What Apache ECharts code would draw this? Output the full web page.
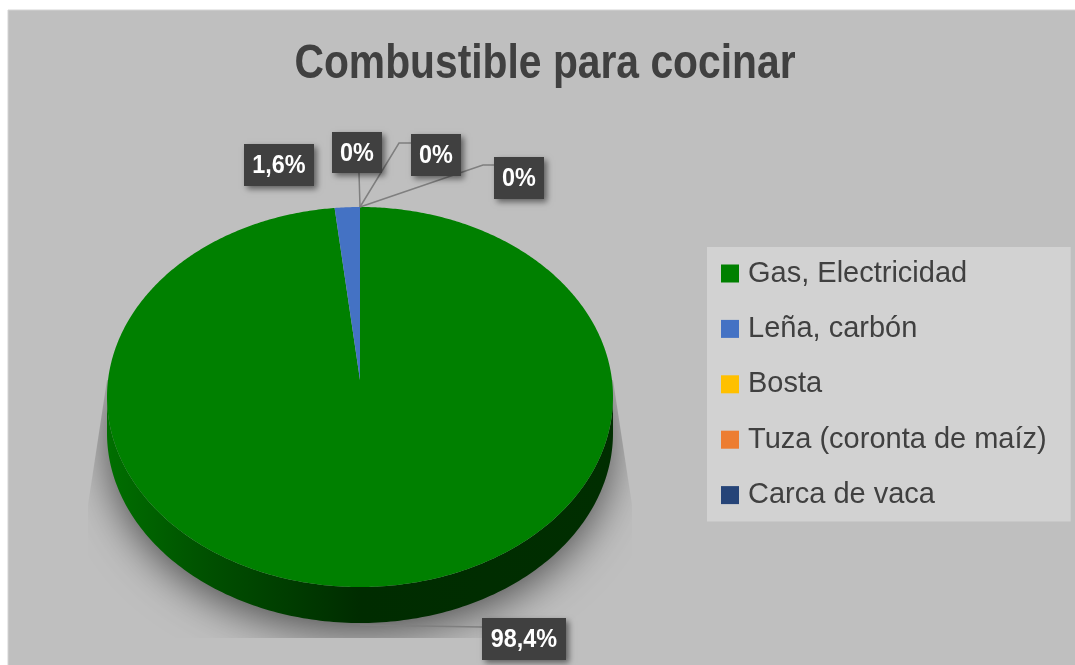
<!DOCTYPE html>
<html><head><meta charset="utf-8">
<style>html,body{margin:0;padding:0;background:#fff}#c{width:1075px;height:665px}</style>
<script src="https://cdn.jsdelivr.net/npm/echarts@6/dist/echarts.min.js"></script>
</head><body><div id="c"></div>
<script>
const categories = ['Gas, Electricidad', 'Leña, carbón', 'Bosta', 'Tuza (coronta de maíz)', 'Carca de vaca'];
const values = [98.4, 1.6, 0, 0, 0];
const colors = ['#008000', '#4472C4', '#FFC000', '#ED7D31', '#264478'];
const titleText = 'Combustible para cocinar';

// Layout of the tilted pie and its callouts (not data)
const P = {cx: 360, cy: 397, rx: 253, ry: 190, apexY: 380, depth: 36};
const boxes = [
  {x: 482, y: 618, w: 84, h: 42, line: [[360, 625], [482, 627]]},
  {x: 244, y: 144, w: 70, h: 42, line: []},
  {x: 332, y: 132, w: 50, h: 41, line: [[360, 207], [359, 173]]},
  {x: 411, y: 134, w: 50, h: 42, line: [[360, 207], [399, 143], [411, 143]]},
  {x: 494, y: 157, w: 50, h: 42, line: [[360, 207], [483, 165], [494, 165]]}
];
const total = values.reduce((a, b) => a + b, 0);
const rim = (deg, dy) => {
  const t = deg * Math.PI / 180;
  return [P.cx + P.rx * Math.sin(t), P.cy + (dy || 0) - P.ry * Math.cos(t)];
};
function renderSlice(params) {
  const i = params.seriesIndex;
  const children = [];
  let startDeg = 0;
  for (let k = 0; k < i; k++) startDeg += values[k] / total * 360;
  const endDeg = startDeg + values[i] / total * 360;
  if (i === 0) {
    children.push({
      type: 'ellipse', z2: 0,
      shape: {cx: P.cx, cy: P.cy + 36, rx: P.rx - 2, ry: P.ry - 2},
      style: {fill: '#969696', shadowBlur: 44, shadowOffsetY: 10, shadowColor: 'rgba(0,0,0,0.62)'},
      clipPath: {type: 'polygon', shape: {points: [[107, 380], [613, 380], [632, 505], [632, 638], [88, 638], [88, 505]]}}
    });
    const wall = [];
    for (let d = 90; d <= 270; d += 1) wall.push(rim(d, P.depth));
    for (let d = 270; d >= 90; d -= 1) wall.push(rim(d, 0));
    children.push({
      type: 'polygon', z2: 1, shape: {points: wall},
      style: {fill: new echarts.graphic.LinearGradient(0, 0, 1, 0, [
        {offset: 0, color: '#006f00'}, {offset: 0.2, color: '#005000'},
        {offset: 0.5, color: '#002c00'}, {offset: 1, color: '#002e00'}
      ])}
    });
  }
  if (values[i] > 0) {
    const pts = [[P.cx, P.apexY]];
    for (let d = startDeg; d < endDeg; d += 0.5) pts.push(rim(d));
    pts.push(rim(endDeg));
    children.push({type: 'polygon', z2: 2, shape: {points: pts}, style: {fill: colors[i]}});
  }
  const b = boxes[i];
  if (b.line.length) {
    children.push({type: 'polyline', z2: 3, shape: {points: b.line},
      style: {stroke: '#7f7f7f', lineWidth: 1.5, fill: null}});
  }
  children.push({
    type: 'rect', z2: 4, shape: {x: b.x, y: b.y, width: b.w, height: b.h},
    style: {fill: '#404040', shadowBlur: 6, shadowOffsetX: 3, shadowOffsetY: 3, shadowColor: 'rgba(0,0,0,0.5)'}
  });
  children.push({
    type: 'text', z2: 5, x: b.x + b.w / 2, y: b.y + b.h / 2 + 1, scaleX: 0.9,
    style: {text: String(values[i]).replace('.', ',') + '%', fill: '#ffffff',
      font: 'bold 26px "Liberation Sans"', align: 'center', verticalAlign: 'middle'}
  });
  return {type: 'group', children};
}
const chart = echarts.init(document.getElementById('c'), null, {renderer: 'canvas'});
chart.setOption({
  animation: false,
  backgroundColor: '#ffffff',
  graphic: [
    {type: 'rect', z: -10, shape: {x: 8, y: 10, width: 1090, height: 680},
      style: {fill: '#bfbfbf', stroke: '#d4d4d4', lineWidth: 1}},
    {type: 'text', z: 5, x: 545, y: 65, scaleX: 0.85,
      style: {text: titleText, fill: '#404040', font: 'bold 48px "Liberation Sans"', align: 'center', verticalAlign: 'middle'}}
  ],
  legend: {
    orient: 'vertical', left: 707, top: 247, data: categories,
    backgroundColor: '#d2d2d2', padding: [12, 24, 12, 14],
    icon: 'rect', itemWidth: 18, itemHeight: 18, itemGap: 26.4, selectedMode: false,
    textStyle: {fontFamily: '"Liberation Sans"', fontSize: 29, color: '#404040', padding: [0, 0, 0, 4]}
  },
  series: categories.map((name, i) => ({
    type: 'custom', name, coordinateSystem: 'none', silent: true,
    itemStyle: {color: colors[i]}, data: [[values[i]]], renderItem: renderSlice, clip: false
  }))
});
</script></body></html>
